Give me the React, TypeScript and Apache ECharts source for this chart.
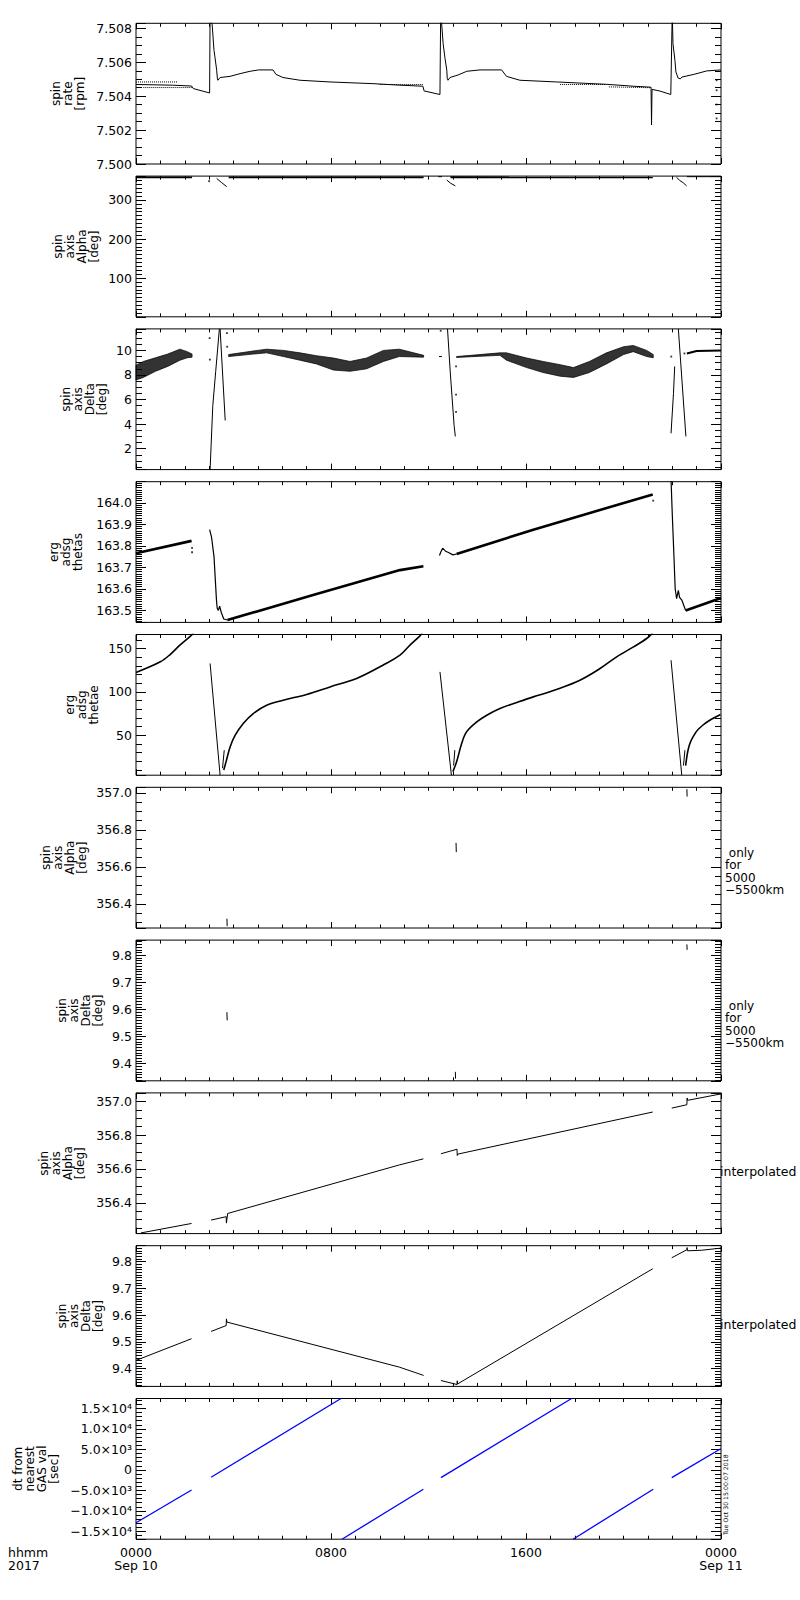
import React, { useEffect, useRef } from "react";
import * as echarts from "echarts";

type Pt = [number, number];
type Seg = Pt[];

const FONT = "DejaVu Sans";

// ---------- x axis (hours of 2017 Sep 10) ----------
const xTickLabels: Record<number, string> = { 0: "0000\nSep 10", 8: "0800", 16: "1600", 24: "0000\nSep 11" };

// ---------- panel axes ----------
const yMins = [7.5, 1, 0.3, 163.444, 3.9, 356.27, 9.337, 356.218, 9.334, -16900];
const yMaxs = [7.5083, 361, 11.75, 164.098, 166.1, 357.03, 9.856, 357.05, 9.859, 17400];
const yMajor = [0.002, 100, 2, 0.1, 50, 0.2, 0.1, 0.2, 0.1, 5000];
const yMinor = [0.0005, 10, 0.5, 0.01, 10, 0.05, 0.01, 0.05, 0.01, 1000];
const yDecimals = [3, 0, 0, 1, 0, 1, 1, 1, 1, -1];
const titles = [
  "spin\nrate\n[rpm]",
  "spin\naxis\nAlpha\n[deg]",
  "spin\naxis\nDelta\n[deg]",
  "erg\nadsg\nthetas",
  "erg\nadsg\nthetae",
  "spin\naxis\nAlpha\n[deg]",
  "spin\naxis\nDelta\n[deg]",
  "spin\naxis\nAlpha\n[deg]",
  "spin\naxis\nDelta\n[deg]",
  "dt from\nnearest\nGAS val\n[sec]",
];
const sideNotes = ["", "", "", "", "", " only\nfor\n5000\n\u22125500km", " only\nfor\n5000\n\u22125500km", "interpolated", "interpolated", ""];
const stampText = "Tue Oct 30 15:00:07 2018";

// ---------- panel 1: spin rate [rpm] ----------
const p1Main: Seg = [
  [0, 7.50469], [1.5, 7.50465], [2.28, 7.5046], [2.35, 7.50445], [3.02, 7.50419],
  [3.04, 7.509], [3.12, 7.5083], [3.2, 7.5067], [3.24, 7.5063], [3.31, 7.50553], [3.34, 7.50502], [3.36, 7.50494],
  [3.45, 7.5051], [3.86, 7.50517], [4.27, 7.50533], [4.68, 7.50547], [5.03, 7.50555], [5.62, 7.50555],
  [5.74, 7.50529], [6.03, 7.5051], [6.73, 7.50494], [7.96, 7.50484], [9.72, 7.50474], [10.83, 7.50465],
  [11.77, 7.50459], [11.82, 7.50431], [12.47, 7.5041],
  [12.5, 7.509], [12.55, 7.50807], [12.6, 7.5071], [12.68, 7.50621], [12.75, 7.50553], [12.77, 7.50504], [12.8, 7.50494],
  [12.88, 7.5051], [13.21, 7.50525], [13.57, 7.50547], [14.11, 7.50555], [15.0, 7.50555], [15.2, 7.50517],
  [15.75, 7.50494], [17.26, 7.50484], [19.31, 7.5047], [20.39, 7.50459], [21.13, 7.50453],
  [21.15, 7.5023], [21.17, 7.5044],
  [21.21, 7.50439], [21.5, 7.5043], [21.94, 7.5041],
  [22.0, 7.509], [22.03, 7.5071], [22.11, 7.50612], [22.15, 7.50543], [22.24, 7.50507], [22.33, 7.50502],
  [22.4, 7.50513], [22.9, 7.50529], [23.41, 7.50549], [24, 7.50555],
];
const p1Steps: Seg[] = [
  [[0, 7.50484], [1.7, 7.50484]],
  [[0.3, 7.50451], [2.3, 7.50451]],
  [[10.0, 7.50469], [11.8, 7.50469]],
  [[17.4, 7.50469], [19.3, 7.50469]],
  [[19.4, 7.50455], [21.1, 7.5045]],
];
const p1Dots: Pt[] = [[23.82, 7.50494], [23.82, 7.50435], [23.82, 7.50351], [23.82, 7.50269]];

// ---------- panel 2: spin axis Alpha [deg] ----------
const p2Segs: Seg[] = [
  [[0, 357.5], [2.3, 357.5]],
  [[3.31, 355], [3.5, 345], [3.72, 334]],
  [[3.8, 357.8], [11.8, 357.5]],
  [[12.4, 359.5], [12.55, 359.5]],
  [[12.75, 351], [12.9, 343], [13.1, 336]],
  [[12.9, 358], [21.2, 357.5]],
  [[22.18, 358], [22.3, 350], [22.45, 344], [22.59, 336]],
  [[22.6, 359.5], [24, 359.5]],
];
const p2Dots: Pt[] = [[3.0, 348]];

// ---------- panel 3: spin axis Delta [deg] ----------
const p3BandHours = [
  [0, 0.3, 0.8, 1.3, 1.8, 2.1, 2.3],
  [3.8, 4.8, 5.36, 6.05, 6.73, 7.4, 8.1, 8.78, 9.46, 10.15, 10.8, 11.8],
  [13.15, 14.93, 15.2, 16.03, 16.7, 17.4, 17.95, 18.6, 19.3, 20.0, 20.4, 20.95, 21.22],
];
const p3BandLow = [
  [7.6, 7.8, 8.3, 8.7, 9.2, 9.4, 9.45],
  [9.5, 9.7, 9.8, 9.5, 9.2, 8.9, 8.4, 8.3, 8.5, 9.1, 9.5, 9.45],
  [9.43, 9.6, 9.2, 8.6, 8.2, 7.9, 7.8, 8.2, 8.9, 9.66, 9.9, 9.5, 9.4],
];
const p3BandHigh = [
  [8.8, 9.1, 9.4, 9.7, 10.1, 9.9, 9.7],
  [9.66, 9.95, 10.1, 10.0, 9.8, 9.57, 9.38, 9.1, 9.38, 10.0, 10.1, 9.6],
  [9.5, 9.8, 9.8, 9.38, 9.1, 8.84, 8.6, 9.1, 9.8, 10.3, 10.4, 10.0, 9.66],
];
const p3Lines: Seg[] = [
  [[3.04, 0.3], [3.15, 5.5], [3.27, 8.3], [3.42, 11.75]],
  [[3.45, 11.75], [3.66, 4.3]],
  [[12.43, 9.5], [12.55, 9.5]],
  [[12.78, 11.75], [12.9, 8.0], [13.05, 3.9], [13.1, 3.0]],
  [[21.95, 3.25], [22.05, 6.5], [22.1, 8.7]],
  [[22.25, 11.75], [22.4, 7.5], [22.56, 3.0]],
  [[22.6, 9.75], [23.0, 9.95], [24, 10.0]],
];
const p3Dots: Pt[] = [
  [3.02, 11.0], [3.03, 9.25], [3.73, 11.4], [3.74, 10.3],
  [12.5, 11.6], [13.13, 8.7], [13.13, 6.4], [13.13, 5.0],
  [21.96, 9.5], [22.5, 9.75],
];

// ---------- panel 4: erg adsg thetas ----------
const p4Rope: Seg[] = [
  [[0, 163.765], [2.28, 163.823]],
  [[3.75, 163.455], [7.3, 163.572], [10.83, 163.687], [11.79, 163.705]],
  [[13.15, 163.762], [16.3, 163.875], [21.2, 164.039]],
  [[22.55, 163.499], [24, 163.557]],
];
const p4Thin: Seg[] = [
  [[3.02, 163.875], [3.1, 163.84], [3.2, 163.75], [3.3, 163.55], [3.33, 163.51], [3.38, 163.5], [3.43, 163.52], [3.5, 163.49], [3.6, 163.46], [3.75, 163.455]],
  [[12.45, 163.755], [12.5, 163.77], [12.58, 163.789], [12.7, 163.775], [12.8, 163.77], [13.0, 163.758], [13.15, 163.762]],
  [[21.95, 164.11], [22.0, 163.95], [22.07, 163.75], [22.12, 163.6], [22.15, 163.577], [22.18, 163.554], [22.25, 163.593], [22.3, 163.56], [22.4, 163.546], [22.55, 163.499]],
];
const p4Dots: Pt[] = [[2.3, 163.79], [2.3, 163.77], [21.22, 164.01]];

// ---------- panel 5: erg adsg thetae ----------
const p5Curves: Seg[] = [
  [[0, 122.3], [1, 134.6], [1.4, 143], [1.8, 153.8], [2.28, 165.4], [2.35, 168]],
  [[3.6, 10], [3.69, 19], [3.86, 36.5], [4.07, 50], [4.4, 63.5], [4.81, 75], [5.36, 84.6], [6.04, 90.4], [7.0, 97], [7.96, 105.7], [9.05, 115.4], [10.13, 130.7], [10.83, 142.3], [11.24, 153.8], [11.65, 164.5], [11.75, 168]],
  [[13.0, 8], [13.15, 19], [13.36, 40.4], [13.56, 53.8], [13.98, 65.3], [14.39, 73], [14.93, 80.8], [15.62, 87.7], [16.3, 94.2], [16.98, 100], [17.67, 106.9], [18.35, 115.4], [19.04, 126.9], [19.72, 140.3], [20.41, 151.8], [20.95, 161.5], [21.2, 168]],
  [[22.55, 15], [22.7, 38.5], [22.98, 53.8], [23.25, 61.5], [23.54, 67.3], [23.98, 73.9]],
];
const p5Drops: Seg[] = [
  [[3.04, 132.7], [3.45, 3.9]],
  [[3.55, 12], [3.62, 32.7]],
  [[12.47, 123], [12.94, 3.9]],
  [[13.03, 15], [13.08, 32.7]],
  [[21.95, 136.5], [22.39, 3.9]],
  [[22.46, 15], [22.52, 32.7]],
];

// ---------- panels 6, 7: only for 5000-5500 km ----------
const p6Marks: Seg[] = [
  [[3.73, 356.32], [3.74, 356.28]],
  [[13.13, 356.73], [13.14, 356.68]],
  [[22.6, 357.02], [22.61, 356.98]],
];
const p7Marks: Seg[] = [
  [[3.73, 9.59], [3.74, 9.56]],
  [[13.1, 9.37], [13.11, 9.345]],
  [[22.6, 9.84], [22.61, 9.82]],
];

// ---------- panels 8, 9: interpolated ----------
const p8Segs: Seg[] = [
  [[0.2, 356.222], [2.28, 356.278]],
  [[3.08, 356.298], [3.7, 356.318], [3.71, 356.28], [3.76, 356.337], [10.8, 356.624], [11.79, 356.66]],
  [[12.51, 356.69], [13.17, 356.717], [13.18, 356.68], [13.2, 356.688], [21.2, 356.937]],
  [[21.98, 356.96], [22.6, 356.98], [22.61, 357.02], [22.63, 357.006], [24, 357.044]],
];
const p9Segs: Seg[] = [
  [[0, 9.431], [2.28, 9.512]],
  [[3.08, 9.539], [3.7, 9.561], [3.71, 9.586], [3.73, 9.574], [10.8, 9.406], [11.8, 9.375]],
  [[12.51, 9.356], [13.17, 9.341], [13.18, 9.355], [13.19, 9.343], [21.2, 9.773]],
  [[21.98, 9.814], [22.6, 9.844], [22.61, 9.852], [22.62, 9.84], [23.2, 9.842], [24, 9.85]],
];

// ---------- panel 10: dt from nearest GAS val [sec] ----------
const p10Segs: Seg[] = [
  [[0, -12900], [2.28, -4900]],
  [[3.08, -1790], [8.41, 17400]],
  [[8.45, -16900], [11.79, -4730]],
  [[12.51, -1890], [17.87, 17400]],
  [[17.93, -16900], [21.22, -4730]],
  [[21.98, -1890], [23.99, 5150]],
];

// ---------- layout ----------
const GRID_LEFT = 136;
const GRID_WIDTH = 585;
const GRID_TOP0 = 23.3;
const GRID_STEP = 152.8;
const GRID_H = 140.7;
const TITLE_X = [68, 75.5, 84, 65.5, 82, 63.5, 80, 61.5, 80, 36];

const supDigits: Record<number, string> = { 3: "\u00b3", 4: "\u2074" };

function isMajor(v: number, major: number) {
  const r = v / major;
  return Math.abs(r - Math.round(r)) < 1e-4;
}

function makeFmt(i: number) {
  const major = yMajor[i];
  const dec = yDecimals[i];
  return (v: number) => {
    if (!isMajor(v, major)) return "";
    if (dec >= 0) return v.toFixed(dec);
    if (Math.abs(v) < 1e-9) return "0";
    const sign = v < 0 ? "\u2212" : "";
    const a = Math.abs(v);
    const e = Math.floor(Math.log10(a) + 1e-9);
    const m = a / Math.pow(10, e);
    return `${sign}${m.toFixed(1)}\u00d710${supDigits[e] ?? e}`;
  };
}

function buildOption() {
  const grids: any[] = [];
  const xAxes: any[] = [];
  const yAxes: any[] = [];
  const series: any[] = [];
  const graphics: any[] = [];
  const black = "#000";

  for (let i = 0; i < 10; i++) {
    const top = GRID_TOP0 + i * GRID_STEP;
    grids.push({
      left: GRID_LEFT,
      top,
      width: GRID_WIDTH,
      height: GRID_H,
      show: true,
      borderColor: black,
      borderWidth: 1,
      backgroundColor: "transparent",
    });
    const xBase = {
      gridIndex: i,
      type: "value",
      min: 0,
      max: 24,
      interval: 8,
      axisLine: { show: false, onZero: false },
      splitLine: { show: false },
      axisTick: { show: true, inside: true, length: 6, lineStyle: { color: black, width: 1 } },
      minorTick: { show: true, splitNumber: 8, length: 3.5, lineStyle: { color: black, width: 1 } },
    };
    const last = i === 9;
    xAxes.push({
      ...xBase,
      position: "bottom",
      axisLabel: last
        ? {
            show: true,
            margin: 7,
            fontSize: 12.5,
            lineHeight: 13,
            fontFamily: FONT,
            color: black,
            formatter: (v: number) => xTickLabels[Math.round(v)] ?? "",
          }
        : { show: false },
    });
    xAxes.push({ ...xBase, position: "top", axisLabel: { show: false } });

    const yBase = {
      gridIndex: i,
      type: "value",
      min: yMins[i],
      max: yMaxs[i],
      axisLine: { show: false, onZero: false },
      splitLine: { show: false },
    };
    const majTick = { show: true, inside: true, length: 10, lineStyle: { color: black, width: 1 } };
    const minTick = { show: true, inside: true, length: 6, lineStyle: { color: black, width: 1 } };
    yAxes.push({
      ...yBase,
      position: "left",
      minInterval: yMajor[i],
      maxInterval: yMajor[i],
      axisTick: majTick,
      axisLabel: {
        show: true,
        margin: 4,
        fontSize: 12.5,
        fontFamily: FONT,
        color: black,
        formatter: makeFmt(i),
      },
    });
    yAxes.push({ ...yBase, position: "left", minInterval: yMinor[i], maxInterval: yMinor[i], axisTick: minTick, axisLabel: { show: false } });
    yAxes.push({ ...yBase, position: "right", minInterval: yMajor[i], maxInterval: yMajor[i], axisTick: majTick, axisLabel: { show: false } });
    yAxes.push({ ...yBase, position: "right", minInterval: yMinor[i], maxInterval: yMinor[i], axisTick: minTick, axisLabel: { show: false } });

    // titles
    graphics.push({
      type: "text",
      x: TITLE_X[i],
      y: top + GRID_H / 2,
      rotation: Math.PI / 2,
      silent: true,
      style: {
        text: titles[i],
        fontSize: 12,
        fontFamily: FONT,
        lineHeight: 12,
        fill: black,
        align: "center",
        verticalAlign: "middle",
      },
    });
    if (sideNotes[i]) {
      const interp = sideNotes[i] === "interpolated";
      graphics.push({
        type: "text",
        x: interp ? 720 : 725,
        y: top + GRID_H / 2 + (interp ? 8.4 : 14),
        silent: true,
        style: {
          text: sideNotes[i],
          fontSize: interp ? 12.5 : 12,
          fontFamily: FONT,
          lineHeight: 12.5,
          fill: black,
          align: "left",
          verticalAlign: "middle",
        },
      });
    }
  }

  const line = (p: number, data: Seg, width = 1, color = black, type = "solid", smooth: number | boolean = false) => ({
    type: "line",
    xAxisIndex: p * 2,
    yAxisIndex: p * 4,
    data,
    symbol: "none",
    showSymbol: false,
    silent: true,
    clip: true,
    smooth,
    lineStyle: { color, width, type },
    z: 3,
  });
  const dots = (p: number, data: Pt[], size = 1.8, color = black) => ({
    type: "scatter",
    xAxisIndex: p * 2,
    yAxisIndex: p * 4,
    data,
    symbol: "rect",
    symbolSize: size,
    silent: true,
    itemStyle: { color },
    z: 3,
  });

  // panel 1
  series.push(line(0, p1Main, 1));
  p1Steps.forEach((s) => series.push(line(0, s, 1, black, "dotted")));
  series.push(dots(0, p1Dots));
  // panel 2
  p2Segs.forEach((s, k) => series.push(line(1, s, k === 0 || k === 2 || k === 5 ? 1.8 : 1)));
  series.push(dots(1, p2Dots));
  // panel 3
  series.push({
    type: "custom",
    xAxisIndex: 4,
    yAxisIndex: 8,
    silent: true,
    z: 3,
    data: p3BandHours.map((h, k) => [h[0], p3BandLow[k][0]]),
    renderItem: (params: any, api: any) => {
      const k = params.dataIndex;
      const hs = p3BandHours[k];
      const lo = p3BandLow[k];
      const hi = p3BandHigh[k];
      const pts: number[][] = [];
      for (let j = 0; j < hs.length; j++) pts.push(api.coord([hs[j], hi[j]]));
      for (let j = hs.length - 1; j >= 0; j--) pts.push(api.coord([hs[j], lo[j]]));
      return {
        type: "polygon",
        shape: { points: pts },
        style: { fill: "rgba(0,0,0,0.8)", stroke: "rgba(0,0,0,0.9)", lineWidth: 0.8 },
      };
    },
  });
  p3Lines.forEach((s, k) => series.push(line(2, s, k === 6 ? 2 : 1)));
  series.push(dots(2, p3Dots));
  // panel 4
  p4Rope.forEach((s) => series.push(line(3, s, 2.6)));
  p4Thin.forEach((s) => series.push(line(3, s, 1.2)));
  series.push(dots(3, p4Dots));
  // panel 5
  p5Curves.forEach((s) => series.push(line(4, s, 1.6, black, "solid", 0.35)));
  p5Drops.forEach((s) => series.push(line(4, s, 1)));
  // panels 6-9
  p6Marks.forEach((s) => series.push(line(5, s, 1)));
  p7Marks.forEach((s) => series.push(line(6, s, 1)));
  p8Segs.forEach((s) => series.push(line(7, s, 1)));
  p9Segs.forEach((s) => series.push(line(8, s, 1)));
  // panel 10
  p10Segs.forEach((s) => series.push(line(9, s, 1.3, "#0000ff")));

  // bottom-left labels and stamp
  const lastTop = GRID_TOP0 + 9 * GRID_STEP;
  graphics.push({
    type: "text",
    x: 8,
    y: lastTop + GRID_H + 7,
    silent: true,
    style: {
      text: "hhmm\n2017",
      fontSize: 12.5,
      fontFamily: FONT,
      lineHeight: 13,
      fill: black,
      align: "left",
      verticalAlign: "top",
    },
  });
  graphics.push({
    type: "text",
    x: 725.5,
    y: lastTop + GRID_H - 44.5,
    rotation: Math.PI / 2,
    silent: true,
    style: {
      text: stampText,
      fontSize: 6.2,
      fontFamily: FONT,
      fill: black,
      align: "center",
      verticalAlign: "middle",
    },
  });

  return {
    animation: false,
    backgroundColor: "#fff",
    grid: grids,
    xAxis: xAxes,
    yAxis: yAxes,
    series,
    graphic: graphics,
  };
}

export default function App() {
  const ref = useRef<HTMLDivElement>(null);
  useEffect(() => {
    if (!ref.current) return;
    const chart = echarts.init(ref.current, null, { renderer: "svg" });
    chart.setOption(buildOption() as any);
    return () => chart.dispose();
  }, []);
  return <div ref={ref} style={{ position: "absolute", left: 0, top: 0, width: 800, height: 1600 }} />;
}
